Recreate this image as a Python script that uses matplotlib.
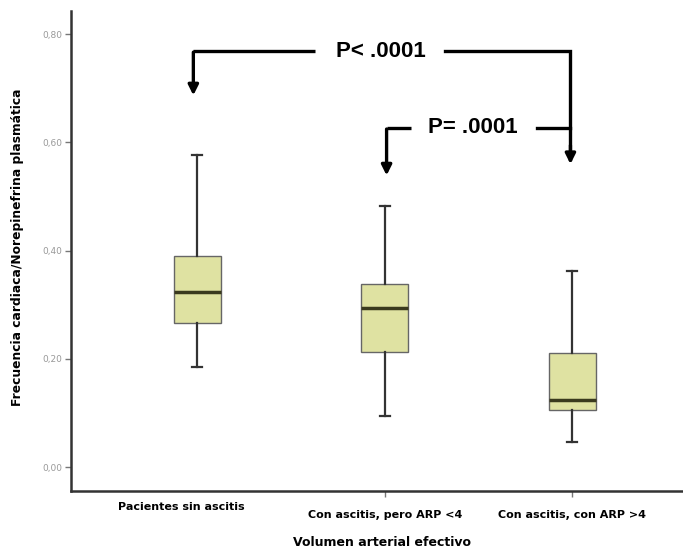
import matplotlib
matplotlib.use("Agg")
import matplotlib.pyplot as plt
from matplotlib.transforms import blended_transform_factory

# Datos (cuartiles y bigotes)
grupos = ["Pacientes sin ascitis", "Con ascitis, pero ARP <4", "Con ascitis, con ARP >4"]
bigote_sup = [0.577, 0.482, 0.362]
q3 = [0.390, 0.338, 0.211]
mediana = [0.323, 0.294, 0.124]
q1 = [0.266, 0.213, 0.105]
bigote_inf = [0.185, 0.094, 0.046]

y_ticks = [0.0, 0.2, 0.4, 0.6, 0.8]
y_tick_labels = ["0,00", "0,20", "0,40", "0,60", "0,80"]

posiciones = [1, 2, 3]

plt.rcParams["font.family"] = ["Liberation Sans Narrow", "DejaVu Sans Condensed", "DejaVu Sans"]

fig = plt.figure(figsize=(6.83, 5.52), dpi=100)
ax = fig.add_axes([0.104, 0.1105, 0.896, 0.8696])

stats = []
for i in range(len(grupos)):
    stats.append({
        "label": grupos[i],
        "whislo": bigote_inf[i], "q1": q1[i], "med": mediana[i],
        "q3": q3[i], "whishi": bigote_sup[i], "fliers": [],
    })

ax.bxp(stats, positions=posiciones, widths=0.25, capwidths=0.055,
       patch_artist=True, showfliers=False,
       boxprops=dict(facecolor="#dfe2a2", edgecolor="#666666", linewidth=1.0),
       medianprops=dict(color="#3a3a1e", linewidth=2.5),
       whiskerprops=dict(color="#333333", linewidth=1.6),
       capprops=dict(color="#333333", linewidth=1.6))

ax.set_xlim(0.328, 3.59)
ax.set_ylim(-0.044, 0.843)

ax.spines["top"].set_visible(False)
ax.spines["right"].set_visible(False)
for s in ["left", "bottom"]:
    ax.spines[s].set_color("#333333")
    ax.spines[s].set_linewidth(1.8)

ax.set_yticks(y_ticks)
ax.set_yticklabels(y_tick_labels, fontsize=6.5, color="#999999")
ax.tick_params(axis="y", length=4, width=1, color="#777777", pad=2)
ax.set_xticks([2, 3])
ax.set_xticklabels([])
ax.tick_params(axis="x", length=4, width=1, color="#777777")

# Etiquetas de categorías
trans = blended_transform_factory(ax.transData, ax.transAxes)
desplaz = [(0.915, -11.5), (2, -17.5), (3, -17.5)]
for nombre, (xp, dy) in zip(grupos, desplaz):
    ax.annotate(nombre, xy=(xp, 0), xycoords=trans, xytext=(0, dy),
                textcoords="offset points", ha="center", va="center",
                fontsize=8, fontweight="bold")

fig.text(382 / 683, 1 - 543 / 552, "Volumen arterial efectivo", ha="center",
         va="center", fontsize=9, fontweight="bold")
fig.text(18 / 683, 1 - 247 / 552, "Frecuencia cardiaca/Norepinefrina plasmática",
         ha="center", va="center", rotation=90, fontsize=8.8, fontweight="bold")

# Corchetes con valores de P
lw = 2.4
ax.plot([posiciones[0] - 0.02, 1.63], [0.769, 0.769], color="black", lw=lw, solid_capstyle="butt")
ax.plot([2.32, posiciones[2] - 0.01, posiciones[2] - 0.01], [0.769, 0.769, 0.57],
        color="black", lw=lw, solid_joinstyle="miter")
ax.annotate("", xy=(posiciones[0] - 0.02, 0.682), xytext=(posiciones[0] - 0.02, 0.772),
            arrowprops=dict(arrowstyle="-|>,head_length=0.6,head_width=0.3", color="black", lw=lw))
ax.annotate("", xy=(posiciones[2] - 0.01, 0.555), xytext=(posiciones[2] - 0.01, 0.60),
            arrowprops=dict(arrowstyle="-|>,head_length=0.6,head_width=0.3", color="black", lw=lw))
ax.text(1.98, 0.769, "P< .0001", ha="center", va="center", fontsize=16,
        fontweight="bold", family="Liberation Sans")

ax.plot([posiciones[1] + 0.01, 2.14], [0.627, 0.627], color="black", lw=lw, solid_capstyle="butt")
ax.plot([2.81, posiciones[2] - 0.01], [0.627, 0.627], color="black", lw=lw)
ax.annotate("", xy=(posiciones[1] + 0.01, 0.534), xytext=(posiciones[1] + 0.01, 0.630),
            arrowprops=dict(arrowstyle="-|>,head_length=0.6,head_width=0.3", color="black", lw=lw))
ax.text(2.47, 0.627, "P= .0001", ha="center", va="center", fontsize=16,
        fontweight="bold", family="Liberation Sans")

fig.savefig("out.png", dpi=100)
